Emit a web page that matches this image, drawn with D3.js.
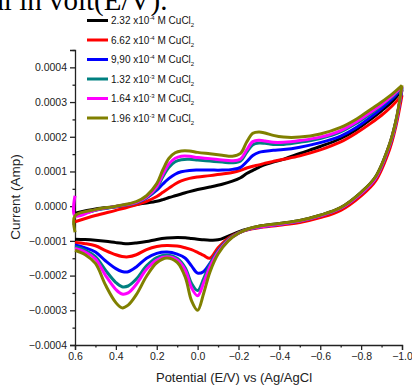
<!DOCTYPE html>
<meta charset="utf-8">
<script src="https://d3js.org/d3.v7.min.js"></script>
<style>
  body { margin: 0; background: #fff; }
  svg { display: block; }
</style>
<div id="chart"></div>
<script>
// potential (V) sampled on each sweep; currents are in units of 1e-4 A
const potentialCathodic = [0.60, 0.55, 0.50, 0.45, 0.40, 0.37, 0.34, 0.30, 0.25, 0.20, 0.15, 0.10, 0.06, 0.03, 0.00, -0.03, -0.06, -0.10, -0.15, -0.20, -0.25, -0.30, -0.40, -0.50, -0.60, -0.70, -0.80, -0.87, -0.94, -0.97, -1.00];
const potentialAnodic = [-1.00, -0.95, -0.90, -0.85, -0.78, -0.70, -0.60, -0.50, -0.42, -0.37, -0.33, -0.30, -0.27, -0.24, -0.21, -0.17, -0.12, -0.06, 0.00, 0.04, 0.08, 0.11, 0.14, 0.17, 0.20, 0.25, 0.30, 0.40, 0.50, 0.60, 0.60];

const cathodic232 = [-0.95, -0.96, -0.98, -1.01, -1.05, -1.07, -1.08, -1.06, -1.02, -0.96, -0.92, -0.90, -0.91, -0.93, -0.95, -0.97, -0.98, -0.97, -0.86, -0.74, -0.65, -0.58, -0.50, -0.41, -0.26, -0.04, 0.40, 0.84, 1.80, 2.45, 3.35];
const cathodic662 = [-1.05, -1.08, -1.14, -1.28, -1.40, -1.45, -1.46, -1.40, -1.25, -1.16, -1.13, -1.15, -1.20, -1.25, -1.33, -1.42, -1.50, -1.20, -0.92, -0.76, -0.67, -0.62, -0.55, -0.47, -0.33, -0.12, 0.30, 0.72, 1.65, 2.30, 3.20];
const cathodic990 = [-1.12, -1.20, -1.32, -1.58, -1.80, -1.88, -1.89, -1.75, -1.50, -1.36, -1.32, -1.38, -1.50, -1.72, -1.93, -1.88, -1.65, -1.30, -0.98, -0.78, -0.66, -0.60, -0.52, -0.43, -0.28, -0.06, 0.37, 0.80, 1.76, 2.40, 3.40];
const cathodic132 = [-1.17, -1.27, -1.45, -1.85, -2.20, -2.32, -2.30, -2.10, -1.72, -1.48, -1.41, -1.50, -1.78, -2.22, -2.43, -2.08, -1.68, -1.28, -0.96, -0.77, -0.66, -0.60, -0.52, -0.43, -0.28, -0.06, 0.37, 0.80, 1.76, 2.40, 3.43];
const cathodic164 = [-1.22, -1.32, -1.52, -2.00, -2.40, -2.53, -2.50, -2.25, -1.82, -1.55, -1.46, -1.55, -1.85, -2.35, -2.58, -2.20, -1.75, -1.32, -0.98, -0.78, -0.66, -0.60, -0.52, -0.43, -0.28, -0.06, 0.37, 0.80, 1.76, 2.40, 3.45];
const cathodic196 = [-1.27, -1.40, -1.65, -2.28, -2.78, -2.93, -2.85, -2.55, -2.02, -1.63, -1.49, -1.62, -2.05, -2.72, -3.00, -2.50, -1.90, -1.38, -1.00, -0.78, -0.65, -0.58, -0.50, -0.41, -0.26, -0.04, 0.40, 0.84, 1.80, 2.45, 3.48];

const anodic232 = [3.35, 3.00, 2.75, 2.52, 2.22, 1.95, 1.72, 1.52, 1.35, 1.27, 1.20, 1.12, 1.03, 0.94, 0.82, 0.72, 0.63, 0.55, 0.48, 0.42, 0.35, 0.30, 0.25, 0.19, 0.14, 0.09, 0.05, -0.02, -0.08, -0.20, -0.20];
const anodic662 = [3.20, 2.88, 2.62, 2.40, 2.12, 1.85, 1.62, 1.45, 1.35, 1.29, 1.24, 1.19, 1.15, 1.10, 1.03, 0.97, 0.93, 0.88, 0.84, 0.80, 0.73, 0.64, 0.52, 0.40, 0.28, 0.14, 0.04, -0.12, -0.27, -0.45, -0.45];
const anodic990 = [3.40, 3.08, 2.82, 2.58, 2.28, 2.02, 1.83, 1.70, 1.63, 1.61, 1.58, 1.55, 1.46, 1.28, 1.12, 1.06, 1.04, 1.04, 1.04, 1.03, 0.99, 0.92, 0.80, 0.64, 0.46, 0.24, 0.11, -0.01, -0.11, -0.28, -0.28];
const anodic132 = [3.43, 3.14, 2.90, 2.68, 2.40, 2.14, 1.95, 1.84, 1.78, 1.78, 1.81, 1.82, 1.77, 1.55, 1.30, 1.25, 1.27, 1.30, 1.33, 1.35, 1.34, 1.28, 1.12, 0.85, 0.52, 0.24, 0.10, -0.02, -0.12, -0.28, -0.28];
const anodic164 = [3.45, 3.17, 2.93, 2.72, 2.44, 2.18, 1.99, 1.89, 1.84, 1.84, 1.88, 1.90, 1.86, 1.62, 1.36, 1.31, 1.33, 1.37, 1.40, 1.44, 1.44, 1.38, 1.22, 0.92, 0.56, 0.26, 0.11, -0.01, -0.11, -0.28, 0.30];
const anodic196 = [3.48, 3.22, 3.00, 2.80, 2.52, 2.27, 2.08, 1.99, 1.99, 2.04, 2.11, 2.14, 2.10, 1.85, 1.52, 1.44, 1.47, 1.51, 1.55, 1.59, 1.59, 1.54, 1.38, 1.05, 0.65, 0.30, 0.13, 0.00, -0.10, -0.28, -0.75];

const legendMantissa = ["2.32", "6.62", "9,90", "1.32", "1.64", "1.96"];
const legendExponent = ["-4", "-4", "-4", "-3", "-3", "-3"];
const colors = ["#000000", "#ff0000", "#0000ff", "#008080", "#ff00ff", "#808000"];

const yTicks = [-4, -3, -2, -1, 0, 1, 2, 3, 4];
const yMinorTicks = [-3.5, -2.5, -1.5, -0.5, 0.5, 1.5, 2.5, 3.5, 4.5];
const xTicks = [0.6, 0.4, 0.2, 0.0, -0.2, -0.4, -0.6, -0.8, -1.0];
const xMinorTicks = [0.5, 0.3, 0.1, -0.1, -0.3, -0.5, -0.7, -0.9];

const series = [
    {cath: cathodic232, an: anodic232},
    {cath: cathodic662, an: anodic662},
    {cath: cathodic990, an: anodic990},
    {cath: cathodic132, an: anodic132},
    {cath: cathodic164, an: anodic164},
    {cath: cathodic196, an: anodic196}
];

const W = 412, H = 388;
const svg = d3.select("#chart").append("svg").attr("width", W).attr("height", H);

const x = d3.scaleLinear().domain([0.6, -1.0]).range([75, 402]);
const y = d3.scaleLinear().domain([-4, 4.5]).range([345, 50]);

// cut-off caption from the page above the figure
svg.append("text")
    .text("al in volt(E/V).")
    .attr("x", -9)
    .attr("y", 10)
    .attr("font-family", "Liberation Serif, Times New Roman, serif")
    .attr("font-size", "29px")
    .attr("fill", "#000");

const fmt = d => d3.format(".4f")(d / 10000);

const yAxis = svg.append("g")
    .attr("transform", "translate(75,0)")
    .call(d3.axisLeft(y).tickValues(yTicks).tickFormat(fmt).tickSize(5).tickPadding(3));
svg.append("g")
    .attr("transform", "translate(75,0)")
    .call(d3.axisLeft(y).tickValues(yMinorTicks).tickFormat("").tickSize(2.5))
    .select(".domain").remove();

const xAxis = svg.append("g")
    .attr("transform", "translate(0,345)")
    .call(d3.axisBottom(x).tickValues(xTicks).tickFormat(d3.format(".1f")).tickSize(5).tickPadding(3));
svg.append("g")
    .attr("transform", "translate(0,345)")
    .call(d3.axisBottom(x).tickValues(xMinorTicks).tickFormat("").tickSize(2.5))
    .select(".domain").remove();

svg.selectAll(".domain, .tick line").attr("stroke", "#222").attr("stroke-width", 1.3);
svg.selectAll(".tick text")
    .attr("font-family", "Liberation Sans, Arial, sans-serif")
    .attr("font-size", "10.5px")
    .attr("fill", "#222");

svg.append("text")
    .text("Potential (E/V) vs (Ag/AgCl")
    .attr("x", 234)
    .attr("y", 382)
    .attr("text-anchor", "middle")
    .attr("font-family", "Liberation Sans, Arial, sans-serif")
    .attr("font-size", "13px")
    .attr("fill", "#222");

svg.append("text")
    .text("Current (Amp)")
    .attr("transform", "translate(20,197) rotate(-90)")
    .attr("text-anchor", "middle")
    .attr("font-family", "Liberation Sans, Arial, sans-serif")
    .attr("font-size", "13.5px")
    .attr("fill", "#222");

const line = d3.line()
    .x(d => x(d[0]))
    .y(d => y(d[1]))
    .curve(d3.curveCatmullRom.alpha(0.5));

const curves = svg.append("g");
series.forEach((s, i) => {
    curves.append("path")
        .attr("d", line(d3.zip(potentialCathodic, s.cath)))
        .attr("fill", "none")
        .attr("stroke", colors[i])
        .attr("stroke-width", 3)
        .attr("stroke-linejoin", "round");
    curves.append("path")
        .attr("d", line(d3.zip(potentialAnodic, s.an)))
        .attr("fill", "none")
        .attr("stroke", colors[i])
        .attr("stroke-width", 3)
        .attr("stroke-linejoin", "round");
});

// legend
const legend = svg.append("g")
    .attr("font-family", "Liberation Sans, Arial, sans-serif")
    .attr("fill", "#111");
legendMantissa.forEach((m, i) => {
    const ly = 20.5 + i * 19.5;
    legend.append("line")
        .attr("x1", 87).attr("x2", 108)
        .attr("y1", ly).attr("y2", ly)
        .attr("stroke", colors[i])
        .attr("stroke-width", 3);
    const t = legend.append("text")
        .attr("x", 111)
        .attr("y", ly + 3.5)
        .attr("font-size", "10px");
    t.append("tspan").text(m + " x10");
    t.append("tspan").text(legendExponent[i]).attr("font-size", "6px").attr("dy", -4);
    t.append("tspan").text(" M CuCl").attr("dy", 4);
    t.append("tspan").text("2").attr("font-size", "6px").attr("dy", 3);
});
</script>
